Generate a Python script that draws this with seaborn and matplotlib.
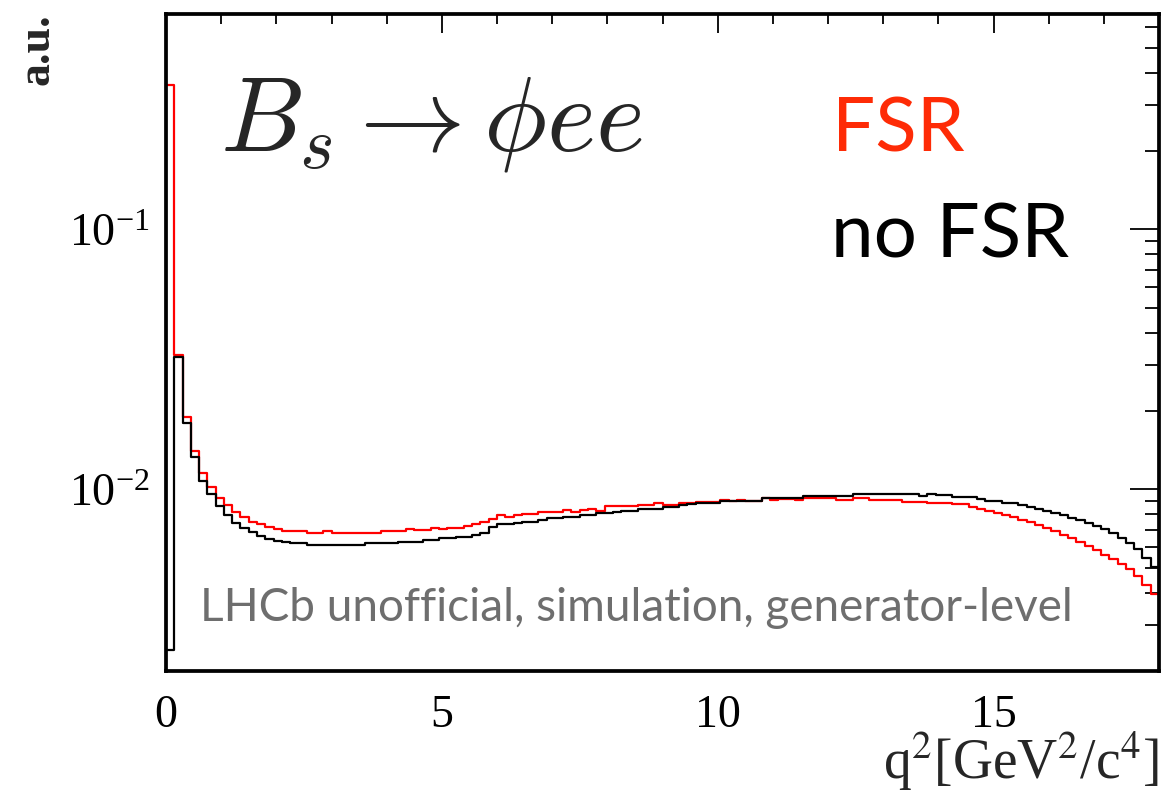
import numpy as np
import pandas as pd
import matplotlib
matplotlib.use("Agg")
import matplotlib.pyplot as plt
import seaborn as sns
from matplotlib.ticker import MultipleLocator, LogLocator, NullFormatter

# ---------------- data ----------------
q2_min, q2_max, n_bins = 0.0, 18.0, 120

fsr = [
    0.359, 0.0327, 0.0189, 0.01406, 0.01159, 0.01019, 0.00929, 0.00871, 0.00818, 0.00785,
    0.00751, 0.00733, 0.00714, 0.00702, 0.00691, 0.00690, 0.00690, 0.00681, 0.00681, 0.00690,
    0.00681, 0.00681, 0.00681, 0.00681, 0.00681, 0.00681, 0.00690, 0.00690, 0.00690, 0.00702,
    0.00698, 0.00698, 0.00712, 0.00702, 0.00712, 0.00712, 0.00723, 0.00733, 0.00746, 0.00769,
    0.00797, 0.00785, 0.00799, 0.00803, 0.00803, 0.00815, 0.00820, 0.00820, 0.00832, 0.00820,
    0.00832, 0.00842, 0.00827, 0.00860, 0.00860, 0.00860, 0.00860, 0.00873, 0.00873, 0.00883,
    0.00873, 0.00873, 0.00883, 0.00883, 0.00896, 0.00896, 0.00896, 0.00910, 0.00904, 0.00910,
    0.00905, 0.00905, 0.00924, 0.00913, 0.00918, 0.00918, 0.00913, 0.00926, 0.00926, 0.00926,
    0.00926, 0.00913, 0.00913, 0.00926, 0.00926, 0.00913, 0.00913, 0.00913, 0.00913, 0.00896,
    0.00896, 0.00896, 0.00883, 0.00888, 0.00888, 0.00876, 0.00876, 0.00857, 0.00842, 0.00827,
    0.00813, 0.00797, 0.00780, 0.00762, 0.00746, 0.00729, 0.00708, 0.00688, 0.00667, 0.00648,
    0.00629, 0.00605, 0.00583, 0.00559, 0.00538, 0.00516, 0.00492, 0.00464, 0.00428, 0.00396,
]

no_fsr = [
    0.0024, 0.0322, 0.0180, 0.0133, 0.0108, 0.0096, 0.0086, 0.00796, 0.00745, 0.00708,
    0.00684, 0.00664, 0.00645, 0.00634, 0.00625, 0.00620, 0.00620, 0.00610, 0.00610, 0.00610,
    0.00610, 0.00610, 0.00610, 0.00610, 0.00620, 0.00620, 0.00620, 0.00620, 0.00629, 0.00629,
    0.00629, 0.00638, 0.00638, 0.00648, 0.00648, 0.00657, 0.00657, 0.00667, 0.00677, 0.00718,
    0.00733, 0.00733, 0.00745, 0.00751, 0.00751, 0.00762, 0.00774, 0.00774, 0.00785, 0.00785,
    0.00797, 0.00797, 0.00809, 0.00809, 0.00818, 0.00827, 0.00827, 0.00840, 0.00840, 0.00840,
    0.00853, 0.00857, 0.00871, 0.00876, 0.00888, 0.00888, 0.00888, 0.00902, 0.00902, 0.00902,
    0.00902, 0.00902, 0.00926, 0.00926, 0.00926, 0.00926, 0.00926, 0.00945, 0.00945, 0.00945,
    0.00945, 0.00945, 0.00945, 0.00959, 0.00959, 0.00959, 0.00959, 0.00959, 0.00959, 0.00959,
    0.00959, 0.00945, 0.00959, 0.00950, 0.00950, 0.00931, 0.00931, 0.00931, 0.00918, 0.00899,
    0.00899, 0.00886, 0.00886, 0.00873, 0.00857, 0.00842, 0.00827, 0.00809, 0.00794, 0.00778,
    0.00762, 0.00744, 0.00723, 0.00702, 0.00677, 0.00648, 0.00620, 0.00589, 0.00546, 0.00501,
]

samples = ["FSR", "no FSR"]
y_limits = (0.002, 0.673)

# ---------------- build table ----------------
edges = np.linspace(q2_min, q2_max, n_bins + 1)
centers = 0.5 * (edges[:-1] + edges[1:])
df = pd.DataFrame({
    "q2": np.concatenate([centers, centers]),
    "w": np.concatenate([fsr, no_fsr]),
    "sample": [samples[0]] * n_bins + [samples[1]] * n_bins,
})

# ---------------- style ----------------
W, H = 1168, 791
sns.set_style("white")
plt.rcParams["font.family"] = ["Liberation Serif", "DejaVu Serif"]
plt.rcParams["mathtext.fontset"] = "stix"

fig = plt.figure(figsize=(W / 100, H / 100), dpi=100)
ax = fig.add_axes([166 / W, 1 - 671 / H, (1159 - 166) / W, (671 - 14) / H])

colors = {"FSR": "#ff0000", "no FSR": "#000000"}
for s in samples:
    sns.histplot(data=df[df["sample"] == s], x="q2", weights="w", bins=edges.tolist(),
                 element="step", fill=False, color=colors[s], linewidth=1.6, ax=ax)

ax.set_yscale("log")
ax.set_xlim(q2_min, q2_max)
ax.set_ylim(*y_limits)
ax.set_xlabel("")
ax.set_ylabel("")

ax.xaxis.set_major_locator(MultipleLocator(5))
ax.xaxis.set_minor_locator(MultipleLocator(1))
ax.yaxis.set_major_locator(LogLocator(base=10))
ax.yaxis.set_minor_locator(LogLocator(base=10, subs=np.arange(2, 10)))
ax.yaxis.set_minor_formatter(NullFormatter())

for sp in ax.spines.values():
    sp.set_linewidth(2.7)
    sp.set_color("black")

ax.tick_params(axis="both", which="both", direction="in", top=True, right=True,
               colors="black", width=1.3)
ax.tick_params(axis="x", which="major", length=14, labelsize=33, pad=17)
ax.tick_params(axis="x", which="minor", length=7)
ax.tick_params(axis="y", which="major", length=21, labelsize=33, pad=12)
ax.tick_params(axis="y", which="minor", length=10)

# ---------------- texts ----------------
def fx(px):
    return px / W

def fy(py):
    return 1 - py / H

fig.text(fx(37), fy(13), "a.u.", rotation=90, ha="center", va="top",
         fontsize=33, fontweight="bold")
fig.text(fx(1159), fy(779), r"q$^{2}$[GeV$^{2}$/c$^{4}$]", ha="right",
         va="baseline", fontsize=40)

fig.text(fx(220), fy(150), r"$B_s \rightarrow \phi e e$", ha="left",
         va="baseline", fontsize=76, math_fontfamily="cm")

fig.text(fx(832), fy(152), "FSR", ha="left", va="baseline", fontsize=55,
         color="#fe2b06", family="Lato")
fig.text(fx(831), fy(258), "no FSR", ha="left", va="baseline", fontsize=55,
         color="black", family="Lato")
fig.text(fx(200), fy(621), "LHCb unofficial, simulation, generator-level",
         ha="left", va="baseline", fontsize=33, color="#6e6e6e", family="Lato")

fig.savefig("out.png", dpi=100)
